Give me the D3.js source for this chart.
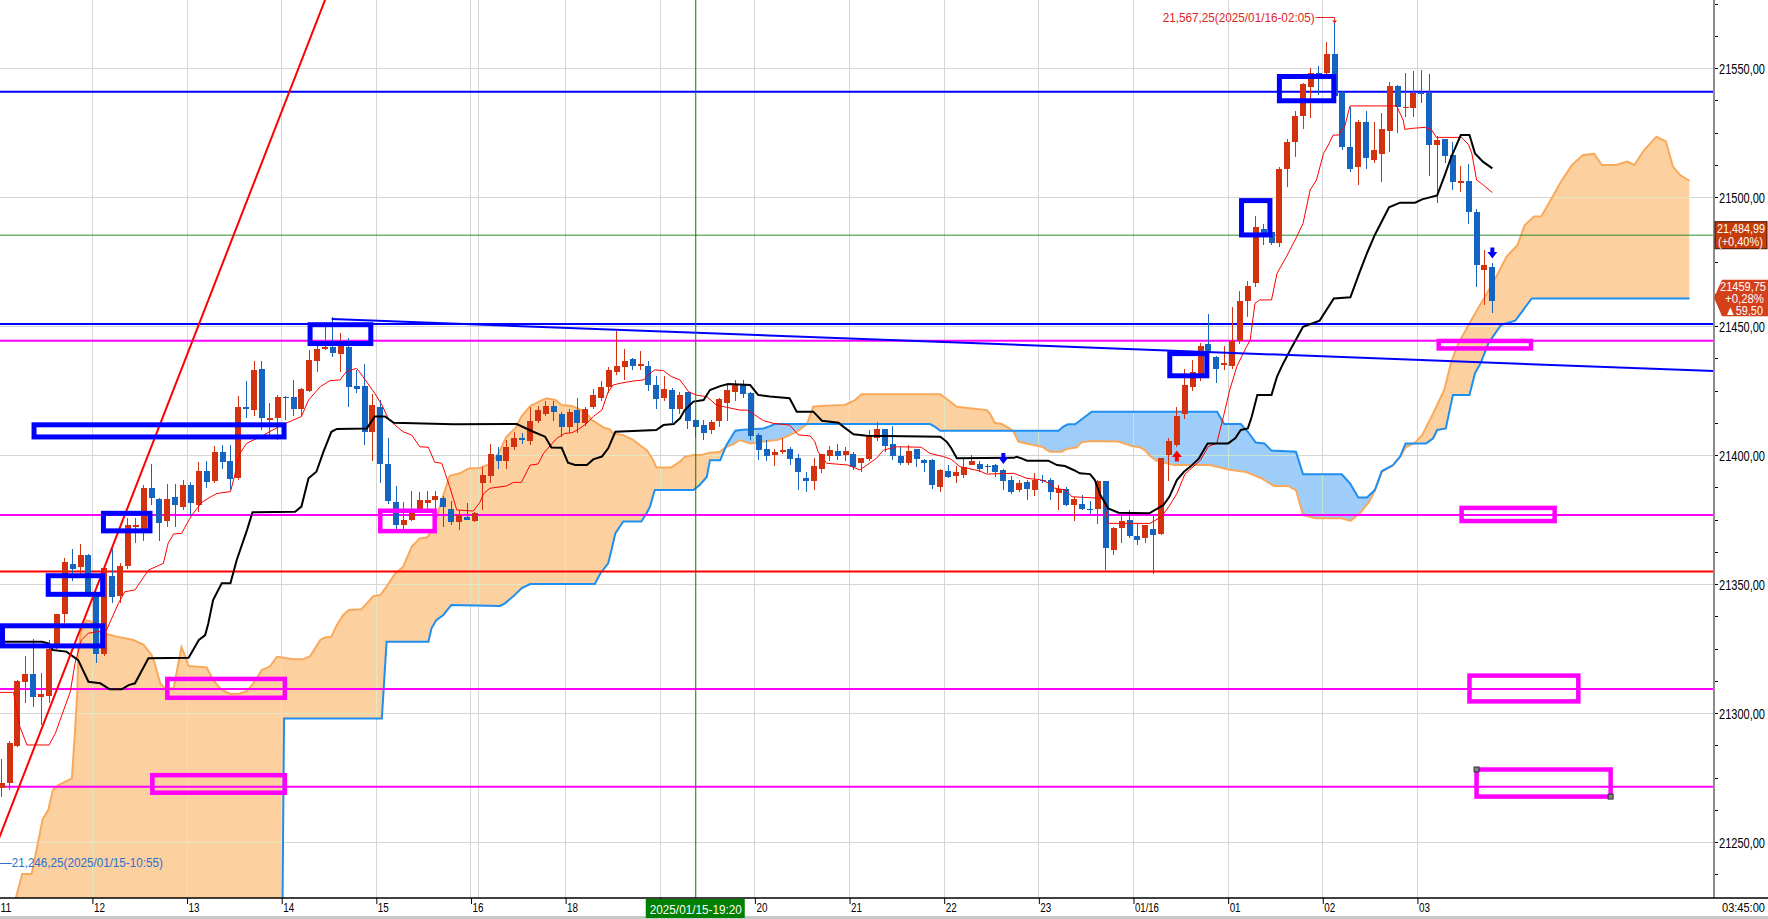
<!DOCTYPE html>
<html lang="ko">
<head>
<meta charset="UTF-8">
<title>5분봉 일목균형표</title>
<script src="https://d3js.org/d3.v7.min.js"></script>
<style>
  * { margin: 0; padding: 0; }
  body { background: #fff; overflow: hidden; }
  svg { display: block; font-family: "Liberation Sans", "DejaVu Sans", sans-serif; }
</style>
</head>
<body>
<script>
const width = 1768
const height = 919
const plotW = 1714
const plotH = 898

// 5분봉 시가/고가/저가/종가 (01/15 11:00 ~ 01/16 03:45)
const opens = [
  21271, 21272.75, 21287.25, 21312, 21315, 21306.25, 21306.75, 21326.5, 21338.5, 21357.75,
  21356.75, 21361.25, 21345.75, 21323, 21353, 21345.5, 21357, 21372, 21371, 21387.25,
  21383, 21374.5, 21383.75, 21380, 21388.5, 21380.5, 21393.75, 21389.75, 21401, 21397.75,
  21391.25, 21418.5, 21417.5, 21433.25, 21413.75, 21414.25, 21422.5, 21422.5, 21418, 21425,
  21436.5, 21441, 21442, 21439, 21442, 21426.75, 21426.75, 21408.75, 21418.75, 21396.5,
  21381.75, 21373, 21374.75, 21379.25, 21381.25, 21382.75, 21383.25, 21379.25, 21374, 21376,
  21374.5, 21389, 21392, 21400, 21397.5, 21403.25, 21406.75, 21405.5, 21413.25, 21416,
  21419, 21416, 21410.75, 21417.5, 21412.5, 21418.5, 21422.25, 21426.5, 21432.25, 21434.25,
  21437.25, 21434.5, 21434.5, 21427, 21422, 21425.25, 21418, 21424.25, 21413.5, 21411.5,
  21409.5, 21413, 21420.25, 21424.5, 21427, 21424, 21407.75, 21402.5, 21400, 21401,
  21402.5, 21399, 21391.25, 21389.75, 21394.5, 21399.5, 21401.5, 21400, 21400.5, 21397,
  21398.5, 21406.75, 21410, 21404.25, 21399.5, 21397, 21402.25, 21398, 21398, 21387.75,
  21393.75, 21392, 21392.25, 21396, 21396.5, 21395.75, 21396, 21394.25, 21390.25, 21386.25,
  21389.5, 21386.25, 21390.5, 21390.5, 21385.25, 21386.75, 21380.5, 21381, 21379.25, 21379.25,
  21389.75, 21363.25, 21371.75, 21374.75, 21368.75, 21368, 21371.25, 21369.5, 21400, 21403.75,
  21416, 21426.5, 21431.5, 21443, 21438, 21435, 21434.5, 21444, 21459.5, 21466.5,
  21487.5, 21486.5, 21482.25, 21511, 21521.5, 21531.5, 21542.5, 21548, 21548, 21555.5,
  21540.75, 21519.5, 21511.5, 21529.25, 21514.25, 21516.75, 21525.5, 21543, 21534.75, 21534.5,
  21540.5, 21540.5, 21520, 21522.5, 21516.25, 21505.5, 21506.25, 21494, 21471.75, 21472.75
]
const highs = [
  21282, 21289, 21312.75, 21322, 21328.5, 21315.5, 21328.25, 21338.5, 21360.25, 21363.5,
  21365.5, 21361.5, 21346, 21357, 21363.75, 21358, 21375.5, 21375.5, 21388.25, 21396.5,
  21383.5, 21388.75, 21388.75, 21390.25, 21389.5, 21397.25, 21397.75, 21403.5, 21404, 21404,
  21423, 21428.5, 21436.25, 21436.25, 21420, 21423.25, 21422.75, 21429.25, 21426, 21440.75,
  21443.25, 21449.75, 21453.5, 21447.25, 21445.25, 21433, 21435.25, 21423.5, 21421.25, 21406.5,
  21388, 21381.75, 21386, 21385.5, 21386, 21386, 21384, 21382, 21378.75, 21381.25,
  21378, 21395.5, 21404.25, 21403, 21405.75, 21409, 21408.5, 21418.5, 21419, 21420.75,
  21420.75, 21416.5, 21417.75, 21422, 21418.5, 21425.75, 21428.5, 21434.25, 21448.25, 21441.25,
  21437.5, 21440.5, 21436.25, 21430.5, 21430.5, 21426, 21424.5, 21424.5, 21414, 21413.5,
  21413.5, 21422, 21427.5, 21429, 21429, 21424.25, 21408.5, 21405.75, 21402.25, 21406.75,
  21403, 21400.5, 21393.25, 21399, 21400.5, 21403.5, 21404.25, 21403, 21401.25, 21399,
  21409.75, 21412.75, 21410.25, 21411.25, 21403, 21404, 21402.5, 21398.5, 21398.5, 21394.5,
  21396, 21395.75, 21398.5, 21400, 21397.75, 21396.5, 21396.5, 21394.5, 21392, 21390.5,
  21390.5, 21393, 21392.25, 21391.25, 21388.5, 21387.5, 21383.75, 21384.5, 21382, 21390.5,
  21390, 21372, 21377.5, 21378.75, 21373.25, 21373, 21376.75, 21399, 21406.5, 21418.75,
  21433.5, 21437, 21443.5, 21454.5, 21438.25, 21442.25, 21457.5, 21463.75, 21467.5, 21492.75,
  21489.5, 21487, 21511.75, 21522.5, 21533.5, 21544, 21550, 21550.75, 21560.25, 21567.25,
  21541, 21534.75, 21529.75, 21533.5, 21529.25, 21532.75, 21544.75, 21543.5, 21548.25, 21548.75,
  21549.25, 21547.5, 21523.5, 21522.5, 21521.25, 21512, 21512.75, 21495.25, 21479.5, 21474.5
]
const lows = [
  21267.5, 21270, 21287, 21303.75, 21302.5, 21295.25, 21303.75, 21325, 21334.75, 21351.25,
  21353, 21345, 21319.5, 21322, 21342.5, 21342.5, 21356, 21365.75, 21366.75, 21380.5,
  21366.5, 21372, 21372.25, 21378.75, 21376.75, 21378, 21387.25, 21389, 21394.75, 21386.5,
  21390.25, 21414.5, 21415, 21409.75, 21407.75, 21405.75, 21413.5, 21415, 21415, 21424.5,
  21432, 21440.75, 21438, 21432.25, 21418.75, 21424, 21404, 21397.5, 21389, 21381,
  21371.5, 21371.5, 21374.25, 21379, 21379.25, 21376, 21372.25, 21373, 21371, 21374.75,
  21374, 21378.75, 21389.25, 21394.75, 21394.75, 21402, 21404.25, 21404, 21412.25, 21415,
  21413, 21407, 21408.5, 21408.5, 21411.25, 21418, 21421, 21424, 21431, 21429.25,
  21433, 21433, 21425, 21418, 21421, 21412.25, 21416, 21410.25, 21407, 21406,
  21408, 21411, 21413, 21420.75, 21422, 21406, 21398.25, 21397.5, 21395.75, 21400.5,
  21396, 21386.25, 21385.5, 21386.25, 21393, 21397.75, 21398.25, 21397.75, 21394, 21393.5,
  21397.5, 21405.25, 21401, 21398, 21396, 21396, 21395.5, 21393.25, 21386.75, 21385.5,
  21391, 21389, 21391.25, 21396, 21393.25, 21393, 21391.5, 21386.5, 21385, 21385.5,
  21382.75, 21384, 21389, 21382.75, 21378.5, 21380.25, 21374.25, 21378.5, 21377, 21373.25,
  21355.25, 21361.25, 21365.75, 21368, 21365, 21366, 21354, 21369, 21389.75, 21403,
  21414, 21425, 21428.5, 21438, 21428, 21433, 21433.5, 21443, 21453.5, 21465,
  21481.5, 21481.5, 21480.75, 21504, 21515.5, 21526.5, 21530.75, 21539.5, 21546, 21538,
  21518.25, 21509.75, 21504.5, 21510.75, 21513.25, 21506, 21517.5, 21525, 21531, 21531,
  21536.25, 21508, 21497.75, 21513, 21502.75, 21502, 21489.5, 21465.25, 21458, 21455
]
const closes = [
  21273, 21288.25, 21312.5, 21315, 21306.25, 21307.5, 21325, 21338.5, 21358.5, 21355.75,
  21361.25, 21345.75, 21323, 21356.25, 21345, 21357, 21373, 21373, 21387.25, 21383.25,
  21373.75, 21383, 21380.5, 21388.5, 21381.5, 21393.75, 21389.5, 21401, 21397.25, 21390.75,
  21418.5, 21418, 21433, 21414.5, 21414.5, 21422.5, 21422.25, 21417.75, 21425.5, 21437,
  21441.25, 21442, 21439.5, 21443.25, 21426.5, 21425.75, 21408.75, 21419.5, 21396.5, 21382.25,
  21373, 21374.75, 21379.25, 21382.5, 21382.75, 21384, 21379.75, 21374, 21376.75, 21375,
  21377.5, 21392.25, 21400.5, 21397.5, 21403.25, 21406.75, 21406, 21413.25, 21417.5, 21419,
  21416.75, 21410.75, 21416.75, 21412.5, 21418, 21423.25, 21426.25, 21433, 21434.5, 21436.5,
  21434.5, 21435.25, 21427, 21421.75, 21425.75, 21417.75, 21423.25, 21413.25, 21411, 21408.5,
  21412.75, 21421.75, 21425.25, 21427.5, 21423.5, 21407.5, 21401.75, 21399.5, 21401, 21402,
  21398.5, 21393.25, 21389.75, 21395.75, 21400.5, 21402, 21399.75, 21401.5, 21395.5, 21398.75,
  21407.5, 21410.25, 21403.5, 21399.75, 21396.75, 21401.5, 21398.5, 21396.75, 21388.5, 21394.25,
  21391.5, 21393.25, 21395.5, 21397.75, 21394.75, 21395.25, 21393.5, 21389.75, 21385.75, 21389,
  21386.75, 21390.5, 21389.75, 21385.75, 21386.75, 21380.5, 21383, 21379, 21378.75, 21389.75,
  21364, 21371.75, 21374.25, 21368.75, 21367, 21373, 21369, 21398.75, 21405.25, 21415,
  21427, 21432, 21442.25, 21440, 21433.5, 21435.5, 21444, 21459.5, 21465.5, 21488.25,
  21484.5, 21482.25, 21511, 21521.5, 21531.5, 21543.75, 21548, 21547.25, 21555.5, 21539,
  21519.5, 21510.75, 21529.25, 21515.25, 21518.25, 21526.25, 21543, 21535, 21535, 21540.5,
  21540, 21520, 21522, 21516, 21506, 21506.25, 21494.25, 21473.5, 21473.5, 21459.75
]

// 일목균형표 선: [봉 위치, 가격]
const tenkan = [[-0.2,21308],[1.5,21308],[2.3,21294.7],[3.2,21287.6],[6,21287.6],[6.8,21292.1],[8.7,21308.3],[9.3,21319.3],[10.1,21328.3],[11,21330.9],[13.3,21332.2],[14.8,21342.5],[15.6,21347],[16.9,21347.7],[18.6,21355.4],[20.5,21358],[21.1,21365.8],[21.8,21369.4],[22.8,21369.6],[24.1,21376.7],[25.4,21381.7],[26.4,21383.6],[27.3,21385.1],[29,21385.8],[29.4,21390.3],[30.2,21400.6],[31.05,21404.5],[33.2,21407.7],[35.5,21411.6],[38,21414.9],[38.9,21421.3],[40.4,21426.5],[41.6,21428.8],[42.9,21429.1],[43.7,21432.3],[45,21433.6],[45.8,21430.4],[47.3,21423.9],[48.2,21419.4],[49,21414.2],[50.1,21411],[50.9,21409],[52,21407.7],[53,21403.2],[54.1,21403],[54.9,21397.2],[55.8,21396.8],[56.8,21387.7],[57.7,21378.7],[59.8,21378.3],[60.6,21381.5],[61.1,21385],[61.9,21387.1],[64,21388],[64.9,21389.4],[65.9,21389.4],[67,21396.1],[68,21396.5],[68.7,21400.6],[69.5,21403.5],[70.4,21406.5],[71.4,21408.4],[72.3,21408.6],[73.3,21410.3],[74.2,21412.3],[75,21414.9],[76.1,21417.4],[76.9,21424.5],[77.5,21427.1],[78.4,21427.8],[80.1,21428.7],[81.4,21429.1],[82.2,21431.7],[82.8,21433],[83.9,21432.7],[84.9,21430.4],[86,21429.1],[87.1,21424.5],[88.1,21423.2],[89.4,21422.6],[90.6,21419.4],[91.9,21418.5],[93.6,21417.4],[94.5,21417.4],[95.5,21415.5],[96.6,21413.3],[97.8,21412.3],[99.9,21411.6],[101,21407.8],[102.5,21407.4],[103.1,21405.2],[103.5,21401.3],[104.6,21396.8],[107.3,21396.1],[108.8,21394.2],[109.7,21396.1],[110.9,21398.7],[111.8,21401.9],[113.5,21403.2],[116.6,21403],[117.7,21400.6],[119.4,21399.4],[120.4,21398.3],[121.5,21395.5],[124,21393.8],[124.9,21392.6],[128.3,21392.9],[129.3,21391.8],[130,21390.9],[131.6,21390.5],[132.9,21389],[133.5,21387.1],[134.8,21386.5],[135.7,21383.8],[139.7,21383.2],[140.3,21373.5],[145.6,21373.5],[147,21376],[148,21380],[149,21385],[150,21392.5],[152,21398],[153,21403.3],[154.05,21404.5],[154.9,21414.8],[155.7,21425.2],[156.6,21434.2],[157.4,21439.4],[158.3,21444.6],[158.9,21458.8],[159.5,21460.1],[161,21460.1],[161.7,21470.4],[162.9,21476.9],[164.2,21484.6],[165,21489.8],[165.9,21502.7],[166.7,21506.6],[167.6,21516.9],[168.2,21520.1],[168.8,21524],[169.5,21524],[170.3,21527.5],[170.95,21535.3],[176.9,21535.3],[177.1,21533.7],[177.7,21529.8],[177.9,21526.2],[178.8,21526.6],[180.5,21527],[181.3,21526],[181.9,21523.1],[185.1,21523.1],[186,21520.2],[186.4,21516.9],[187,21506.6],[187.6,21505.3],[189,21501.7]]
const kijun = [[-0.2,21327.6],[5.1,21327.6],[5.9,21327],[6.5,21324.4],[8.2,21323.8],[9.7,21320.5],[11,21312.1],[12.5,21311.5],[13.7,21309.2],[15.2,21309.2],[16.1,21310.8],[16.9,21311.5],[18.6,21321.2],[23.7,21321.4],[25,21328.3],[25.8,21330.2],[26.2,21334.8],[26.8,21343.8],[27.9,21350.3],[29,21350.3],[29.8,21359.3],[31.1,21370.9],[31.8,21377.8],[37.2,21378],[38,21380],[38.9,21391],[39.9,21393.5],[40.8,21401.3],[41.8,21409],[42.5,21410.1],[46.3,21410.3],[47.3,21414.9],[48.6,21414.9],[49.7,21412.5],[57.3,21411.9],[65.3,21412],[67.4,21409],[68.9,21407.1],[69.7,21402.9],[71,21402.8],[71.8,21397],[72.7,21396.1],[74.2,21396.1],[75,21398.3],[76.1,21399.4],[76.9,21402.6],[77.8,21409],[83,21409.7],[83.9,21411.6],[85.2,21412],[86,21414.2],[86.6,21417.4],[87.7,21420.7],[89,21421.3],[89.8,21425.2],[91.1,21426.7],[92.1,21427.5],[94.9,21427.1],[95.9,21423.3],[97.4,21422.7],[99.9,21422],[100.8,21416.8],[102.9,21416.8],[104,21413.3],[106.1,21412.5],[106.7,21411],[108,21408],[109.7,21407.5],[119,21407.1],[119.8,21405.2],[120.4,21402.6],[121.1,21398.7],[128.3,21398.9],[128.7,21399.3],[129.3,21398.7],[130,21397.8],[132.7,21397.8],[133.8,21396.1],[134.8,21395.7],[135.9,21394.2],[136.7,21392.9],[138,21392.6],[138.6,21390.3],[139.3,21384.5],[140.3,21379.3],[141.6,21377.6],[145.5,21377.4],[147.3,21380.6],[148.05,21383.8],[149,21390.3],[149.9,21393.5],[150.8,21395.7],[151.8,21398.7],[152.9,21404.5],[155.5,21404.5],[156.4,21406.5],[157.1,21409.7],[158,21410.3],[158.5,21414.9],[159.2,21423.3],[161,21423.3],[161.7,21430.4],[162.4,21435],[163.6,21442],[165,21449.7],[167.1,21452.1],[168.9,21460.7],[171,21461.1],[172.2,21471.1],[173.1,21478.2],[174.1,21485.3],[175.9,21496],[177.3,21497.8],[179.2,21497.8],[180.1,21499.1],[182,21500.6],[182.9,21507.9],[183.8,21515.6],[185,21524],[186.1,21524],[186.8,21516.9],[187.8,21513.7],[189,21511.1]]
const spanA = [[-1,21205],[1.8,21228.3],[2.6,21237.6],[3.8,21237.6],[5.2,21258.9],[5.9,21262.4],[6.5,21270.2],[7.2,21272.1],[8.9,21274.7],[9.3,21293.4],[9.6,21309],[9.7,21324.4],[10.1,21332.2],[10.8,21335.8],[11.4,21335.4],[12,21331.5],[13.3,21330.6],[14.6,21329.6],[16.7,21328.3],[18,21326.4],[19,21322.5],[19.4,21319.3],[20.1,21311.5],[20.7,21309.6],[21.8,21309.6],[22.4,21319.3],[22.8,21325.5],[23.2,21322.5],[23.7,21318.2],[26,21317.7],[26.8,21312.8],[27.9,21308.9],[29,21307.4],[30.2,21307.6],[31.1,21308.5],[31.9,21311.5],[33,21316.7],[34,21318],[34.9,21321.8],[37,21320.8],[38.2,21320.8],[39.1,21322],[40.4,21328.3],[41,21329.3],[41.8,21329.6],[42.5,21334.1],[43.3,21338],[44,21339.9],[45.6,21340.2],[46.3,21342.5],[47.1,21345.3],[48,21345.7],[48.8,21349],[49.9,21354.1],[50.9,21356.7],[52,21364.5],[53,21367.7],[53.9,21368],[54.7,21370.9],[55.6,21380.6],[56.8,21391.9],[58.1,21392.9],[59.2,21394.8],[60.6,21395],[61.9,21396.5],[63,21400.6],[64,21407.1],[65.1,21410.3],[65.9,21414.9],[67,21419],[68.5,21421.3],[69.1,21422],[70.2,21421.3],[71,21419.4],[72.3,21419],[73.3,21417.7],[74.2,21416.1],[74.8,21413.6],[76.3,21410.7],[77.1,21409.9],[77.5,21408.4],[78.8,21407.7],[80.1,21405.8],[80.9,21403.9],[81.8,21401.9],[82.6,21398],[83,21395.2],[84.9,21395.2],[86,21397.4],[86.6,21399.3],[87.7,21400],[88.7,21400],[89.8,21400.9],[91.1,21401.3],[91.9,21403.2],[92.8,21404.2],[93.6,21405.8],[94.9,21404.5],[96.6,21405.2],[98.3,21405.8],[99.5,21407.1],[100.8,21409],[102.1,21412],[102.9,21418.7],[103.8,21419],[106.9,21419.4],[108.2,21421.3],[109,21423.5],[119,21423.5],[120,21421.3],[121.1,21418.7],[124.9,21417.4],[125.3,21416.1],[125.9,21412.5],[126.8,21412],[127.8,21410.3],[128.3,21409],[128.9,21405.2],[130.2,21404.3],[131.9,21403.2],[132.9,21401.3],[134.4,21401.3],[135,21402.3],[136.3,21403],[136.9,21404.9],[138.2,21405.4],[141.6,21405.2],[143.3,21403.5],[144.3,21403],[145,21401.7],[145.6,21399.6],[146.4,21397.8],[148.6,21396.1],[153.2,21396.1],[155.5,21394.4],[157.8,21393.4],[159.7,21391],[161.3,21388],[163.1,21388],[164.1,21386.4],[165,21376.7],[166.6,21375.5],[169.9,21375.5],[171,21374.5],[172.2,21377.4],[173.4,21381.9],[174.1,21386.2],[175,21393.6],[176.4,21395.9],[177.3,21399.2],[178,21403],[179.2,21404.8],[180.1,21407.7],[181.5,21416.1],[182.9,21425.2],[183.8,21436.2],[184.7,21443.3],[186.1,21451],[187.3,21457.5],[188.2,21462],[189.4,21468.5],[190.8,21476.9],[192.2,21481.4],[193.1,21489.1],[194.3,21492.4],[195.2,21492.4],[196.4,21498.8],[197.7,21505.9],[199.1,21512.4],[200.5,21516.3],[201.9,21516.7],[202.9,21512.4],[204.7,21512.4],[206.1,21513.7],[207,21512.4],[208.2,21518],[209.8,21523.4],[211,21521.5],[211.9,21511.8],[212.8,21508.5],[214,21506.3]]
const spanB = [[-1,21150],[35.4,21150],[35.8,21297.9],[48.2,21297.9],[48.8,21327.6],[54.1,21327.6],[54.5,21332.8],[55.1,21336],[56,21338],[57,21341.9],[63.2,21341.5],[63.8,21342.5],[64.9,21345.3],[65.9,21348.3],[67,21350],[75.2,21350],[75.9,21354.1],[76.9,21358],[77.3,21363],[77.8,21369.6],[78.8,21374.2],[81.1,21374.2],[81.8,21377.6],[82.2,21380],[82.8,21386.4],[87.7,21386.4],[88.5,21388.4],[89.4,21391.5],[89.8,21398],[91.1,21398],[91.9,21403.9],[93,21409.4],[94,21409.8],[96.6,21410.3],[97.4,21411.2],[98,21412],[117.7,21412],[118.3,21411],[119,21409.4],[134,21409.4],[134.6,21411],[135.2,21411.9],[136.1,21411.9],[137.4,21414.9],[138.2,21416.8],[154.1,21416.8],[155,21412],[157.1,21412],[158,21409],[159,21404.8],[160.1,21404.5],[161,21401.7],[164.1,21401.3],[165,21392.5],[169.9,21392.5],[171,21388.8],[172,21383.5],[173.1,21383.5],[174.1,21386.4],[175,21393.8],[176.4,21396.1],[177.3,21399.4],[178,21404.5],[180.6,21404.5],[181.5,21406.5],[182,21409.7],[183.1,21410.3],[184,21423.3],[186.1,21423.3],[186.8,21431.7],[187.5,21435.5],[188.5,21443.3],[190.1,21450.4],[191.9,21452.1],[192.6,21454.9],[194,21460.7],[214,21460.7]]

// 시간축 눈금 (봉 번호와 라벨)
const tickBars = [0, 12, 24, 36, 48, 60, 72, 84, 96, 108, 120, 132, 144, 156, 168, 180]
const tickLabels = ['11', '12', '13', '14', '15', '16', '18', '19', '20', '21', '22', '23', '01/16', '01', '02', '03']
const extraGridBars = [61]
const priceTicks = d3.range(21250, 21551, 50)
const minorTicks = d3.range(21237.5, 21576, 12.5)

// 작도 도구
const hLinePrices = [21540.8, 21485.2, 21450.8, 21444.3, 21376.7, 21354.8, 21309.3, 21271.4]
const hLineColors = ['#0000ff', '#2e8b2e', '#0000ff', '#ff00ff', '#ff00ff', '#ff0000', '#ff00ff', '#ff00ff']
const hLineWidths = [2, 1, 2, 2, 2, 2, 2, 2]
const trendRed = [[-1, 21246.25], [42, 21584.25]]
const trendBlue = [[41.84, 21452.7], [217.5, 21432.5]]
// [시작봉, 끝봉, 위 가격, 아래 가격]
const blueBoxes = [[4.1, 35.8, 21411.7, 21407], [12.9, 18.8, 21377.4, 21370.6], [5.9, 12.8, 21353.2, 21346], [0.1, 12.8, 21333.8, 21326], [39.1, 46.8, 21450.5, 21443.2], [148.1, 152.8, 21439.3, 21430.7], [157.2, 160.8, 21498.6, 21485.3], [162, 168.9, 21546.7, 21537.3]]
const magentaBoxes = [[21, 35.9, 21313.2, 21305.9], [19.1, 35.9, 21275.9, 21269.1], [48, 54.9, 21378.4, 21370.5], [182.2, 193.9, 21444.2, 21441.3], [185.1, 196.9, 21379.5, 21374.4], [186.1, 199.9, 21314.5, 21304.5], [187, 204, 21278.1, 21267.6]]
const selectedBox = 6

// 신호 화살표
const signalBars = [127, 149, 189]
const signalPrices = [21396.5, 21401.7, 21476.2]
const signalDirs = ['down', 'up', 'down']

// 라벨
const crossBar = 88
const crossLabel = '2025/01/15-19:20'
const highBar = 169
const highPrice = 21567.25
const highLabel = '21,567,25(2025/01/16-02:05)'
const lowPrice = 21246.25
const lowLabel = '—21,246,25(2025/01/15-10:55)'
const markPrice = 21484.99
const markPct = '(+0,40%)'
const lastPct = '+0,28%'
const lastChange = '▲59,50'
const lastTime = '03:45:00'

const upColor = '#d2320f'
const downColor = '#1565c0'

const svg = d3.select('body')
    .append('svg')
    .attr('width', width)
    .attr('height', height)

svg.append('rect').attr('width', width).attr('height', height).attr('fill', '#fff')

const xPos = d3.scaleLinear().domain([0, 1]).range([1.7, 1.7 + 7.887])
const yScale = d3.scaleLinear().domain([21250, 21550]).range([842, 68])

const fmtAxis = d => d3.format('.2f')(d).replace('.', ',')
const fmtComma = d => d3.format(',.2f')(d).replace('.', ',')

// 좁은 글꼴 흉내: 글자를 가로로만 줄여서 지정 폭에 맞춤
function fitText(sel, w) {
    sel.each(function (d, i) {
        const el = d3.select(this)
        const x = +el.attr('x') || 0
        const y = +el.attr('y') || 0
        const target = typeof w === 'function' ? w(d, i) : w
        const len = this.getComputedTextLength()
        const s = len > 0 ? Math.min(1, target / len) : 1
        el.attr('x', 0).attr('y', 0)
            .attr('transform', 'translate(' + x + ',' + y + ') scale(' + s + ',1)')
    })
}

const lineGen = d3.line().x(d => xPos(d[0])).y(d => yScale(d[1]))
const areaAbove = d3.area().x(d => xPos(d[0])).y0(0).y1(d => yScale(d[1]))
const areaBelow = d3.area().x(d => xPos(d[0])).y0(plotH).y1(d => yScale(d[1]))

const defs = svg.append('defs')
defs.append('clipPath').attr('id', 'plotClip')
    .append('rect').attr('width', plotW).attr('height', plotH)
const clips = [['aboveA', areaAbove, spanA], ['belowA', areaBelow, spanA], ['aboveB', areaAbove, spanB], ['belowB', areaBelow, spanB]]
clips.forEach(c => {
    defs.append('clipPath').attr('id', c[0]).append('path').attr('d', c[1](c[2]))
})

const plot = svg.append('g').attr('clip-path', 'url(#plotClip)')

function drawGrid(g, color) {
    g.selectAll('.gh').data(priceTicks).enter().append('line')
        .attr('class', 'gh')
        .attr('x1', 0).attr('x2', plotW)
        .attr('y1', d => yScale(d)).attr('y2', d => yScale(d))
        .attr('stroke', color).attr('shape-rendering', 'crispEdges')
    g.selectAll('.gv').data(tickBars.concat(extraGridBars)).enter().append('line')
        .attr('class', 'gv')
        .attr('x1', d => xPos(d - 0.5)).attr('x2', d => xPos(d - 0.5))
        .attr('y1', 0).attr('y2', plotH)
        .attr('stroke', color).attr('shape-rendering', 'crispEdges')
}

drawGrid(plot.append('g'), '#d6d6d6')

// 구름대: 선행스팬1 > 선행스팬2 이면 주황, 반대면 하늘색
const orangeCloud = plot.append('g').attr('clip-path', 'url(#aboveB)')
    .append('g').attr('clip-path', 'url(#belowA)')
orangeCloud.append('rect').attr('width', plotW).attr('height', plotH).attr('fill', '#fdd0a0')
drawGrid(orangeCloud, '#e3e8c2')

const blueCloud = plot.append('g').attr('clip-path', 'url(#aboveA)')
    .append('g').attr('clip-path', 'url(#belowB)')
blueCloud.append('rect').attr('width', plotW).attr('height', plotH).attr('fill', '#9fcdf9')
drawGrid(blueCloud, '#c6e6d4')

plot.append('path').attr('d', lineGen(spanA))
    .attr('fill', 'none').attr('stroke', '#f9a95c').attr('stroke-width', 2)
plot.append('path').attr('d', lineGen(spanB))
    .attr('fill', 'none').attr('stroke', '#1e8ff0').attr('stroke-width', 2)

// 수평선
plot.selectAll('.hline').data(hLinePrices).enter().append('line')
    .attr('class', 'hline')
    .attr('x1', 0).attr('x2', plotW)
    .attr('y1', d => yScale(d)).attr('y2', d => yScale(d))
    .attr('stroke', (d, i) => hLineColors[i])
    .attr('stroke-width', (d, i) => hLineWidths[i])

// 캔들
const bars = d3.range(closes.length)
const colorOf = i => closes[i] >= opens[i] ? upColor : downColor
const candles = plot.append('g').attr('shape-rendering', 'crispEdges')
    .selectAll('g').data(bars).enter().append('g')
candles.append('line')
    .attr('x1', i => xPos(i)).attr('x2', i => xPos(i))
    .attr('y1', i => yScale(highs[i])).attr('y2', i => yScale(lows[i]))
    .attr('stroke', colorOf)
candles.append('rect')
    .attr('x', i => xPos(i) - 3)
    .attr('width', 6)
    .attr('y', i => yScale(Math.max(opens[i], closes[i])))
    .attr('height', i => Math.max(1, Math.abs(yScale(opens[i]) - yScale(closes[i]))))
    .attr('fill', colorOf)

// 전환선, 기준선
plot.append('path').attr('d', lineGen(tenkan))
    .attr('fill', 'none').attr('stroke', '#ff0000').attr('stroke-width', 1)
plot.append('path').attr('d', lineGen(kijun))
    .attr('fill', 'none').attr('stroke', '#000').attr('stroke-width', 2)

// 추세선
plot.append('path').attr('d', lineGen(trendRed))
    .attr('fill', 'none').attr('stroke', '#ff0000').attr('stroke-width', 2)
plot.append('path').attr('d', lineGen(trendBlue))
    .attr('fill', 'none').attr('stroke', '#0000ff').attr('stroke-width', 2)

// 십자선
plot.append('line')
    .attr('x1', xPos(crossBar)).attr('x2', xPos(crossBar))
    .attr('y1', 0).attr('y2', plotH)
    .attr('stroke', '#008000').attr('stroke-width', 1)

// 박스
function drawBoxes(data, color, sw) {
    plot.selectAll(null).data(data).enter().append('rect')
        .attr('x', d => xPos(d[0]))
        .attr('width', d => xPos(d[1]) - xPos(d[0]))
        .attr('y', d => yScale(d[2]))
        .attr('height', d => yScale(d[3]) - yScale(d[2]))
        .attr('fill', 'none').attr('stroke', color).attr('stroke-width', sw)
}
drawBoxes(blueBoxes, '#0000ff', 5)
drawBoxes(magentaBoxes, '#ff00ff', 4.5)

const sel = magentaBoxes[selectedBox]
;[[sel[0], sel[2]], [sel[1], sel[3]]].forEach(p => {
    plot.append('rect')
        .attr('x', xPos(p[0]) - 2.5).attr('y', yScale(p[1]) - 2.5)
        .attr('width', 5).attr('height', 5)
        .attr('fill', '#808080').attr('stroke', '#333').attr('stroke-width', 1)
})

// 신호 화살표
signalBars.forEach((b, i) => {
    const cx = xPos(b)
    const ty = yScale(signalPrices[i])
    const s = signalDirs[i] === 'down' ? 1 : -1
    const path = `M${cx - 2},${ty - s * 11} h4 v${s * 4.5} h3 L${cx},${ty} L${cx - 5},${ty - s * 6.5} h3 Z`
    plot.append('path').attr('d', path)
        .attr('fill', signalDirs[i] === 'down' ? '#0000ff' : '#ff0000')
})

// 고가/저가 표시
const hx = xPos(highBar)
const hy = yScale(highPrice)
plot.append('text')
    .attr('x', hx - 20).attr('y', hy - 1.5)
    .attr('text-anchor', 'end')
    .attr('font-size', 12)
    .attr('fill', '#e0261c')
    .text(highLabel)
    .call(fitText, 152)
plot.append('path')
    .attr('d', `M${hx - 19},${hy - 6} H${hx} V${hy - 2}`)
    .attr('fill', 'none').attr('stroke', '#e0261c').attr('stroke-width', 1)
plot.append('path')
    .attr('d', `M${hx - 2.5},${hy - 3} L${hx + 2.5},${hy - 3} L${hx},${hy} Z`)
    .attr('fill', '#e0261c')

plot.append('text')
    .attr('x', 0).attr('y', yScale(lowPrice) + 15)
    .attr('font-size', 12)
    .attr('fill', '#2a6fcf')
    .text(lowLabel)
    .call(fitText, 163)

// 가격축
svg.append('rect').attr('x', plotW).attr('y', 0).attr('width', width - plotW).attr('height', plotH).attr('fill', '#fff')
const yAxisG = svg.append('g')
    .attr('transform', 'translate(' + plotW + ',0)')
    .call(d3.axisRight(yScale).tickValues(minorTicks).tickSize(4)
        .tickFormat(d => priceTicks.includes(d) ? fmtAxis(d) : ''))
yAxisG.select('.domain').remove()
yAxisG.attr('font-family', null).attr('font-size', null)
yAxisG.selectAll('line').attr('stroke', '#000').attr('shape-rendering', 'crispEdges')
yAxisG.selectAll('text')
    .attr('x', 5).attr('dy', '0.42em')
    .attr('font-size', 14).attr('fill', '#000')
    .filter(d => priceTicks.includes(d))
    .call(fitText, 46)

svg.append('line')
    .attr('x1', plotW).attr('x2', plotW).attr('y1', 0).attr('y2', plotH)
    .attr('stroke', '#8c8c8c').attr('stroke-width', 2)

// 시간축 (십자선 라벨에 가려지는 눈금 라벨은 비움)
const crossX = xPos(crossBar)
const xAxisG = svg.append('g')
    .attr('transform', 'translate(0,' + plotH + ')')
    .call(d3.axisBottom(xPos).tickValues(tickBars.map(b => b - 0.5)).tickSize(6)
        .tickFormat((d, i) => Math.abs(xPos(d) - crossX) < 52 ? '' : tickLabels[i]))
xAxisG.select('.domain').remove()
xAxisG.attr('font-family', null).attr('font-size', null)
xAxisG.selectAll('line').attr('stroke', '#000')
xAxisG.selectAll('text')
    .attr('text-anchor', 'start')
    .attr('x', d => Math.max(0, xPos(d) + 1) - xPos(d)).attr('y', 14).attr('dy', null)
    .attr('font-size', 13).attr('fill', '#000')
    .call(fitText, (d, i) => tickLabels[i].length > 2 ? 24 : 11)

svg.append('line')
    .attr('x1', 0).attr('x2', width).attr('y1', plotH).attr('y2', plotH)
    .attr('stroke', '#000').attr('stroke-width', 1.5)
svg.append('rect').attr('x', 0).attr('y', 916).attr('width', width).attr('height', 3).attr('fill', '#c8c8c8')

svg.append('text')
    .attr('x', plotW + 8).attr('y', plotH + 14)
    .attr('font-size', 13)
    .text(lastTime)
    .call(fitText, 43)

// 십자선 시간 라벨
svg.append('rect')
    .attr('x', crossX - 50).attr('y', plotH + 1).attr('width', 99).attr('height', 19)
    .attr('fill', '#008000')
svg.append('text')
    .attr('x', crossX).attr('y', plotH + 16)
    .attr('text-anchor', 'middle')
    .attr('font-size', 13).attr('fill', '#fff')
    .text(crossLabel)
    .call(fitText, 92)

// 오른쪽 가격 라벨 (수평선)
const my = yScale(markPrice)
svg.append('rect')
    .attr('x', plotW + 1).attr('y', my - 14).attr('width', 52).attr('height', 27)
    .attr('fill', '#c43c0a').attr('stroke', '#401000').attr('stroke-width', 1)
svg.append('text')
    .attr('x', plotW + 3).attr('y', my - 2.5)
    .attr('font-size', 13).attr('fill', '#fff')
    .text(fmtComma(markPrice))
    .call(fitText, 48)
svg.append('text')
    .attr('x', plotW + 4).attr('y', my + 10.5)
    .attr('font-size', 13).attr('fill', '#fff')
    .text(markPct)
    .call(fitText, 45)

// 현재가 라벨
const lastPrice = closes[closes.length - 1]
const ly = yScale(lastPrice)
svg.append('path')
    .attr('d', `M${plotW},${ly - 3} L${plotW + 8},${ly - 21} H${width} V${ly + 15.5} H${plotW + 8} Z`)
    .attr('fill', '#d3401a')
svg.append('text')
    .attr('x', plotW + 6).attr('y', ly - 10)
    .attr('font-size', 13).attr('fill', '#fff')
    .text(fmtAxis(lastPrice))
    .call(fitText, 46)
svg.append('text')
    .attr('x', plotW + 11).attr('y', ly + 2.2)
    .attr('font-size', 13).attr('fill', '#fff')
    .text(lastPct)
    .call(fitText, 39)
svg.append('text')
    .attr('x', plotW + 11).attr('y', ly + 14)
    .attr('font-size', 13).attr('fill', '#fff')
    .text(lastChange)
    .call(fitText, 38)
</script>
</body>
</html>
